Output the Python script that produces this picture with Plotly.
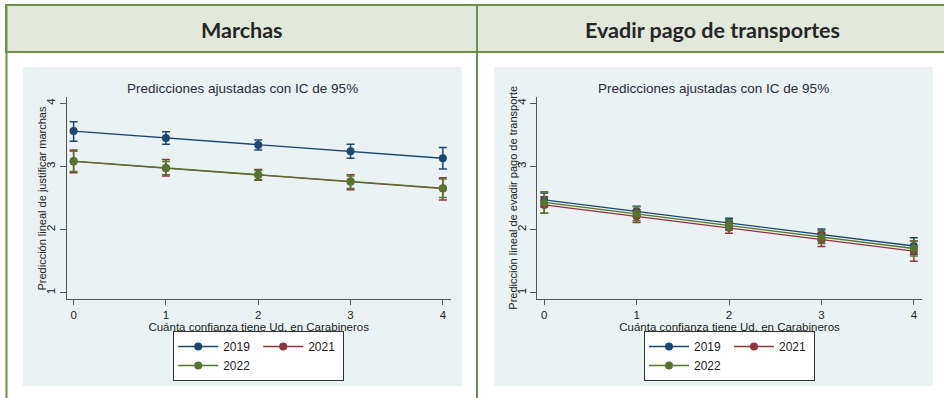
import plotly.graph_objects as go

# ---------------- data ----------------
x_vals = [0, 1, 2, 3, 4]
x_ticklabels = ["0", "1", "2", "3", "4"]
y_tickvals = [1, 2, 3, 4]
years = ["2019", "2021", "2022"]

# Marchas
marchas_2019 = [3.56, 3.45, 3.34, 3.24, 3.13]
marchas_2019_lo = [3.40, 3.35, 3.26, 3.13, 2.96]
marchas_2019_hi = [3.71, 3.55, 3.42, 3.35, 3.30]
marchas_2021 = [3.08, 2.97, 2.865, 2.76, 2.65]
marchas_2021_lo = [2.90, 2.85, 2.78, 2.63, 2.47]
marchas_2021_hi = [3.26, 3.11, 2.95, 2.87, 2.82]
marchas_2022 = [3.085, 2.975, 2.87, 2.76, 2.655]
marchas_2022_lo = [2.92, 2.87, 2.79, 2.65, 2.51]
marchas_2022_hi = [3.24, 3.08, 2.94, 2.85, 2.80]

# Evadir pago de transportes
evadir_2019 = [2.47, 2.29, 2.11, 1.92, 1.74]
evadir_2019_lo = [2.36, 2.21, 2.04, 1.83, 1.61]
evadir_2019_hi = [2.58, 2.37, 2.18, 2.01, 1.87]
evadir_2021 = [2.39, 2.21, 2.03, 1.84, 1.66]
evadir_2021_lo = [2.26, 2.11, 1.94, 1.73, 1.50]
evadir_2021_hi = [2.52, 2.31, 2.12, 1.95, 1.82]
evadir_2022 = [2.43, 2.25, 2.07, 1.88, 1.70]
evadir_2022_lo = [2.26, 2.14, 1.99, 1.78, 1.58]
evadir_2022_hi = [2.60, 2.36, 2.15, 1.98, 1.82]

headers = ["Marchas", "Evadir pago de transportes"]
chart_title = "Predicciones ajustadas con IC de 95%"
x_title = "Cuánta confianza tiene Ud. en Carabineros"
y_titles = ["Predicción lineal de justificar marchas",
            "Predicción lineal de evadir pago de transporte"]

# ---------------- style ----------------
W, H = 944, 398
colors = {"2019": "#1a476f", "2021": "#90353b", "2022": "#55752f"}
groups = {"2019": "a", "2021": "b", "2022": "a"}
FONT = "Liberation Sans, Arial, sans-serif"
GREEN = "#6e8f4f"
GRAPHBG = "#eaf2f3"

def px(x):
    return x / W

def py(y):
    return 1 - y / H

fig = go.Figure()

panels = [
    ({"2019": (marchas_2019, marchas_2019_lo, marchas_2019_hi),
      "2021": (marchas_2021, marchas_2021_lo, marchas_2021_hi),
      "2022": (marchas_2022, marchas_2022_lo, marchas_2022_hi)}, "x", "y", "legend"),
    ({"2019": (evadir_2019, evadir_2019_lo, evadir_2019_hi),
      "2021": (evadir_2021, evadir_2021_lo, evadir_2021_hi),
      "2022": (evadir_2022, evadir_2022_lo, evadir_2022_hi)}, "x2", "y2", "legend2"),
]

for series, xa, ya, lg in panels:
    for yr in years:
        v, lo, hi = series[yr]
        fig.add_trace(go.Scatter(
            x=x_vals, y=v, mode="lines+markers", name=yr,
            xaxis=xa, yaxis=ya, legend=lg, legendgroup=groups[yr] + lg,
            line=dict(color=colors[yr], width=1.3),
            marker=dict(color=colors[yr], size=8, symbol="circle"),
            error_y=dict(type="data", symmetric=False,
                         array=[h - c for h, c in zip(hi, v)],
                         arrayminus=[c - l for c, l in zip(v, lo)],
                         color=colors[yr], thickness=1.5, width=4),
            hoverinfo="skip",
        ))

# plot-region geometry (pixels)
left_plot = (66.7, 450.7)
right_plot = (537.3, 921.7)
plot_top, plot_bottom = 96.7, 299.0

axis_common = dict(showline=True, linecolor="#555", linewidth=1, ticks="outside",
                   tickcolor="#555", ticklen=5, tickfont=dict(family=FONT, size=11.5, color="#222"),
                   zeroline=False, automargin=False)

xaxis_base = dict(axis_common, tickvals=x_vals, ticktext=x_ticklabels, range=[-0.075, 4.085],
                  showgrid=False,
                  title=dict(text=x_title, font=dict(family=FONT, size=11.5, color="#222"), standoff=0))
yaxis_base = dict(axis_common, tickvals=y_tickvals, range=[0.9, 4.105], tickangle=-90,
                  showgrid=True, gridcolor="#eaf2f3", gridwidth=1, ticklen=6)

fig.update_layout(
    xaxis=dict(xaxis_base, domain=[px(left_plot[0]), px(left_plot[1])], anchor="y"),
    yaxis=dict(yaxis_base, domain=[py(plot_bottom), py(plot_top)], anchor="x"),
    xaxis2=dict(xaxis_base, domain=[px(right_plot[0]), px(right_plot[1])], anchor="y2"),
    yaxis2=dict(yaxis_base, domain=[py(plot_bottom), py(plot_top)], anchor="x2"),
)

legend_common = dict(orientation="h", traceorder="grouped", bgcolor="white",
                     bordercolor="#333", borderwidth=1, itemwidth=40, entrywidth=30,
                     font=dict(family=FONT, size=12, color="#222"),
                     xanchor="center", yanchor="top", y=py(331))
fig.update_layout(
    legend=dict(legend_common, x=px((left_plot[0] + left_plot[1]) / 2)),
    legend2=dict(legend_common, x=px((right_plot[0] + right_plot[1]) / 2)),
)

shapes = []
# graph regions (light blue-gray)
shapes.append(dict(type="rect", xref="paper", yref="paper", layer="below",
                   x0=px(22.7), x1=px(461.7), y0=py(386), y1=py(67),
                   fillcolor=GRAPHBG, line=dict(width=0)))
shapes.append(dict(type="rect", xref="paper", yref="paper", layer="below",
                   x0=px(494), x1=px(932.7), y0=py(386), y1=py(67),
                   fillcolor=GRAPHBG, line=dict(width=0)))
# table header background
shapes.append(dict(type="rect", xref="paper", yref="paper", layer="below",
                   x0=px(6), x1=px(950), y0=py(52), y1=py(5),
                   fillcolor="#e2e8dc", line=dict(color=GREEN, width=2)))
# table lines
shapes.append(dict(type="line", xref="paper", yref="paper", layer="above",
                   x0=px(6.5), x1=px(6.5), y0=py(5), y1=py(400), line=dict(color=GREEN, width=2)))
shapes.append(dict(type="line", xref="paper", yref="paper", layer="above",
                   x0=px(477), x1=px(477), y0=py(5), y1=py(400), line=dict(color=GREEN, width=2)))
fig.update_layout(shapes=shapes)

annotations = []
for hx, txt in [(241.8, headers[0]), (712.5, headers[1])]:
    annotations.append(dict(text="<b>" + txt + "</b>", x=px(hx), y=py(29.5), xref="paper", yref="paper",
                            xanchor="center", yanchor="middle", showarrow=False,
                            font=dict(family="Lato, sans-serif", size=21.5, color="#262626")))
for cx in [242.2, 713.3]:
    annotations.append(dict(text=chart_title, x=px(cx), y=py(88.5), xref="paper", yref="paper",
                            xanchor="center", yanchor="middle", showarrow=False,
                            font=dict(family=FONT, size=13.5, color="#2a2a3a")))
# y-axis titles (rotated)
for tx, txt in [(41.7, y_titles[0]), (512.8, y_titles[1])]:
    annotations.append(dict(text=txt, x=px(tx), y=py((plot_top + plot_bottom) / 2),
                            xref="paper", yref="paper", textangle=-90,
                            xanchor="center", yanchor="middle", showarrow=False,
                            font=dict(family=FONT, size=11, color="#222")))
fig.update_layout(annotations=annotations)

fig.update_layout(width=W, height=H, margin=dict(l=0, r=0, t=0, b=0),
                  paper_bgcolor="white", plot_bgcolor="white", showlegend=True)

fig.write_html("out.html", config={"displayModeBar": False},
               post_script="document.body.style.margin='0';document.body.style.overflow='hidden';")
